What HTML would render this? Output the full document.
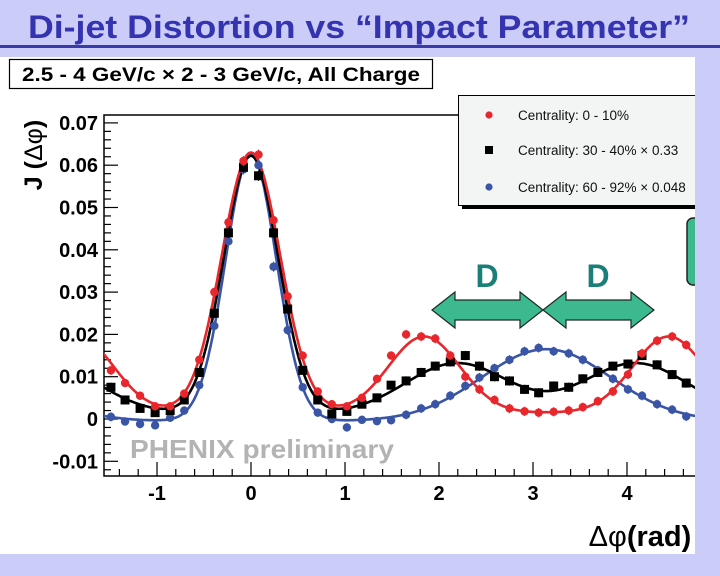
<!DOCTYPE html>
<html><head><meta charset="utf-8">
<style>
html,body{margin:0;padding:0;background:#ccccf8;}
svg{display:block;}
text{font-family:"Liberation Sans",Arial,sans-serif;}
</style></head>
<body>
<svg id="chart" width="720" height="576" viewBox="0 0 720 576">
  <rect x="0" y="0" width="720" height="576" fill="#ccccf8"/>
  <text x="359" y="38" text-anchor="middle" font-size="32" font-weight="bold" fill="#3434b0" textLength="662" lengthAdjust="spacingAndGlyphs">Di-jet Distortion vs “Impact Parameter”</text>
  <rect x="0" y="45" width="720" height="3" fill="#3a3aa8"/>
  <rect x="0" y="57" width="695" height="497" fill="#ffffff"/>
  <rect x="9.5" y="59.5" width="423" height="29" fill="#fff" stroke="#000" stroke-width="1.2"/>
  <text x="22" y="81" font-size="19" font-weight="bold" fill="#000" textLength="398" lengthAdjust="spacingAndGlyphs">2.5 - 4 GeV/c × 2 - 3 GeV/c,  All Charge</text>
  <text transform="translate(42,155) rotate(-90)" text-anchor="middle" font-size="25" font-weight="bold" fill="#000">J (<tspan font-weight="normal">Δφ</tspan>)</text>
  <text x="640" y="546" text-anchor="middle" font-size="29" font-weight="bold" fill="#000"><tspan font-weight="normal">Δφ</tspan>(rad)</text>
  <g id="plot"></g>
  <text x="130" y="458" font-size="26" font-weight="bold" fill="#b3b3b3" textLength="264" lengthAdjust="spacingAndGlyphs">PHENIX preliminary</text>
  <g>
    <rect x="462" y="99" width="240" height="110" fill="#000"/>
    <rect x="458.5" y="95.5" width="240" height="110" fill="#f3f4f4" stroke="#000" stroke-width="1"/>
    <circle cx="489" cy="115" r="3.6" fill="#e8262c"/>
    <text x="518" y="120" font-size="13.5" fill="#111">Centrality:  0 - 10%</text>
    <rect x="485" y="146" width="8" height="8" fill="#000"/>
    <text x="518" y="155" font-size="13.5" fill="#111">Centrality: 30 - 40% × 0.33</text>
    <circle cx="489" cy="187" r="3.6" fill="#3a55a5"/>
    <text x="518" y="192" font-size="13.5" fill="#111">Centrality: 60 - 92% × 0.048</text>
  </g>
  <rect x="687" y="218" width="20" height="67" rx="6" fill="#3cb98e" stroke="#222" stroke-width="1.5"/>
  <g>
    <polygon points="432,310 455,292 455,300 520,300 520,292 543,310 520,328 520,320 455,320 455,328" fill="#3cb98e" stroke="#1e2a26" stroke-width="1.2"/>
    <polygon points="543,310 566,292 566,300 631,300 631,292 654,310 631,328 631,320 566,320 566,328" fill="#3cb98e" stroke="#1e2a26" stroke-width="1.2"/>
    <text x="487" y="287" text-anchor="middle" font-size="32" font-weight="bold" fill="#1a7f78">D</text>
    <text x="598" y="287" text-anchor="middle" font-size="32" font-weight="bold" fill="#1a7f78">D</text>
  </g>
  <rect x="695" y="57" width="25" height="519" fill="#ccccf8"/>
</svg>
<script>
// ---- data ----
const binCenters = [-1.49,-1.34,-1.18,-1.02,-0.86,-0.71,-0.55,-0.39,-0.24,-0.08,0.08,0.24,0.39,0.55,0.71,0.86,1.02,1.18,1.34,1.49,1.65,1.81,1.96,2.12,2.28,2.43,2.59,2.75,2.91,3.06,3.22,3.38,3.53,3.69,3.85,4.01,4.16,4.32,4.48,4.63];
const redValues = [0.0115,0.0085,0.0055,0.0030,0.0030,0.0060,0.0140,0.0300,0.0465,0.0610,0.0625,0.0470,0.0290,0.0150,0.0065,0.0035,0.0030,0.0050,0.0095,0.0150,0.0200,0.0195,0.0190,0.0150,0.0100,0.0070,0.0045,0.0025,0.0018,0.0015,0.0017,0.0020,0.0028,0.0042,0.0065,0.0105,0.0155,0.0185,0.0195,0.0175];
const blackValues = [0.0075,0.0045,0.0025,0.0015,0.0020,0.0045,0.0110,0.0250,0.0440,0.0595,0.0575,0.0440,0.0260,0.0115,0.0045,0.0012,0.0018,0.0035,0.0050,0.0080,0.0090,0.0110,0.0125,0.0135,0.0150,0.0125,0.0100,0.0090,0.0070,0.0062,0.0078,0.0075,0.0095,0.0110,0.0125,0.0130,0.0150,0.0128,0.0105,0.0085];
const blueValues = [0.0005,-0.0006,-0.0012,-0.0015,0.0003,0.0020,0.0080,0.0220,0.0420,0.0590,0.0600,0.0360,0.0210,0.0075,0.0015,0.0000,-0.0020,-0.0002,-0.0005,-0.0003,0.0010,0.0025,0.0035,0.0055,0.0078,0.0098,0.0120,0.0140,0.0160,0.0168,0.0160,0.0155,0.0140,0.0115,0.0095,0.0070,0.0055,0.0035,0.0022,0.0006];
const errorValues = [0.0011,0.0010,0.0010,0.0010,0.0010,0.0010,0.0010,0.0011,0.0012,0.0012,0.0012,0.0012,0.0011,0.0010,0.0010,0.0010,0.0010,0.0010,0.0010,0.0010,0.0011,0.0011,0.0011,0.0011,0.0011,0.0011,0.0011,0.0011,0.0011,0.0011,0.0011,0.0011,0.0011,0.0011,0.0011,0.0011,0.0011,0.0011,0.0011,0.0011];
// fit parameters: [baseline, nearAmp, nearSigma, awayAmp, awayShift, awaySigma]
const redFit = [0.0015,0.0615,0.31,0.018,1.30,0.38];
const blackFit = [0.0012,0.061,0.29,0.012,0.95,0.55];
const blueFit = [-0.0005,0.063,0.27,0.0085,0.0,0.69];
const yTickValues = [-0.01,0,0.01,0.02,0.03,0.04,0.05,0.06,0.07];
const yTickLabels = ["-0.01","0","0.01","0.02","0.03","0.04","0.05","0.06","0.07"];
const xTickValues = [-1,0,1,2,3,4];
const xTickLabels = ["-1","0","1","2","3","4"];

// ---- axes ----
const NS = "http://www.w3.org/2000/svg";
const X0 = 251, XS = 94, Y0 = 419, YS = 4230;
const L = 104, T = 115, R = 695, B = 476;
function sx(v){ return X0 + v*XS; }
function sy(v){ return Y0 - v*YS; }
const plot = document.getElementById('plot');
function mk(tag, attrs, parent){ const e=document.createElementNS(NS,tag); for(const k in attrs) e.setAttribute(k, attrs[k]); (parent||plot).appendChild(e); return e; }

// clip
const defs = mk('defs',{});
const cp = mk('clipPath',{id:'clip'},defs);
mk('rect',{x:L,y:T,width:R-L,height:B-T},cp);

// frame
const frame = mk('path',{d:`M${R+10},${T} H${L} V${B} H${R+10}`,fill:'none',stroke:'#000','stroke-width':1.5});



// y ticks
for(let v=-0.012; v<=0.0705; v+=0.002){
  const vv = Math.round(v*1000)/1000;
  const major = Math.abs(vv*100 - Math.round(vv*100))<1e-6;
  const t = mk('line',{x1:L,x2:L+(major?14:7),y1:sy(vv),y2:sy(vv),stroke:'#000','stroke-width':1.2});
  
  
}
yTickValues.forEach((v,i)=>{
  const t = mk('text',{x:98,y:sy(v)+7,'text-anchor':'end','font-size':20,'font-weight':'bold',fill:'#000'});
  t.textContent = yTickLabels[i];
  
  
});
// x ticks
for(let k=-7;k<=23;k++){
  const v = k*0.2;
  if(sx(v)<L||sx(v)>R) continue;
  const major = k%5===0;
  const t = mk('line',{x1:sx(v),x2:sx(v),y1:B,y2:B-(major?14:7),stroke:'#000','stroke-width':1.2});
  
  
}
xTickValues.forEach((v,i)=>{
  const t = mk('text',{x:sx(v),y:500,'text-anchor':'middle','font-size':20,'font-weight':'bold',fill:'#000'});
  t.textContent = xTickLabels[i];
  
  
});

// fit curves
function model(p, x){
  let v = p[0];
  for(const c of [0, 2*Math.PI, -2*Math.PI]) v += p[1]*Math.exp(-(x-c)*(x-c)/(2*p[2]*p[2]));
  for(const c of [Math.PI-p[4], Math.PI+p[4], Math.PI-p[4]-2*Math.PI, Math.PI+p[4]-2*Math.PI]) v += p[3]*Math.exp(-(x-c)*(x-c)/(2*p[5]*p[5]));
  return v;
}
const g = mk('g',{'clip-path':'url(#clip)'});


const series = [
  {fit:blueFit, vals:blueValues, color:'#3a55a5', shape:'c', name:'peripheral'},
  {fit:blackFit, vals:blackValues, color:'#000000', shape:'s', name:'midcentral'},
  {fit:redFit, vals:redValues, color:'#e8262c', shape:'c', name:'central'}
];
series.forEach(s=>{
  let d='';
  for(let x=-1.6; x<=4.8; x+=0.01){ d += (d?'L':'M') + sx(x).toFixed(1)+','+sy(model(s.fit,x)).toFixed(1); }
  const p = mk('path',{d:d,fill:'none',stroke:s.color,'stroke-width':2.6},g);
  
  
});
series.forEach(s=>{
  s.vals.forEach((v,i)=>{
    const x = sx(binCenters[i]), y = sy(v), e = errorValues[i]*YS;
    const eb = mk('line',{x1:x,x2:x,y1:y-e,y2:y+e,stroke:s.color,'stroke-width':1},g);
    
    
    let m;
    if(s.shape==='s') m = mk('rect',{x:x-4.5,y:y-4.5,width:9,height:9,fill:s.color},g);
    else m = mk('circle',{cx:x,cy:y,r:4.2,fill:s.color},g);
    
    
  });
});
</script>
</body></html>
